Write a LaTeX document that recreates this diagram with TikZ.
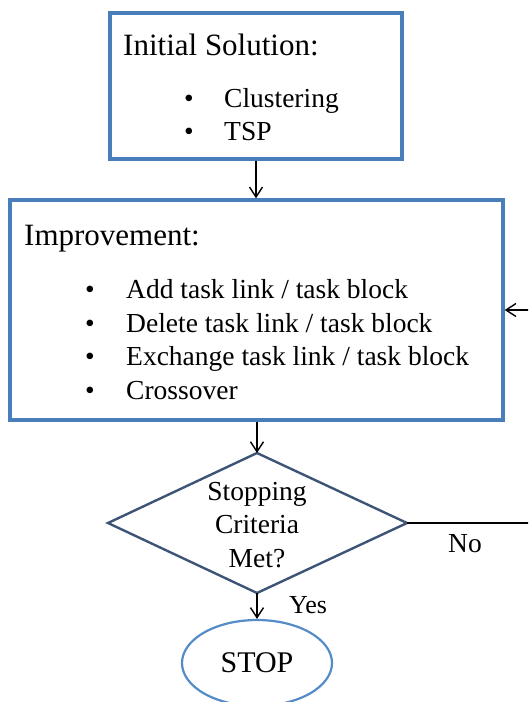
\documentclass[tikz,border=0pt]{standalone}
\usepackage{fontspec}
\setmainfont{Liberation Serif}
\usetikzlibrary{shapes.geometric,arrows.meta}
\definecolor{boxblue}{RGB}{74,126,187}
\definecolor{diablue}{RGB}{62,84,118}
\definecolor{ovalblue}{RGB}{84,140,200}
\tikzset{
  procbox/.style={draw=boxblue, line width=3.4pt, fill=white, inner sep=0pt},
  flow/.style={draw=black, line width=1.5pt, -{Straight Barb[length=10pt,width=13pt,line width=1.4pt]}},
  plain/.style={draw=black, line width=1.5pt},
  head/.style={anchor=base west, inner sep=0pt, font=\fontsize{31}{37}\selectfont},
  item/.style={anchor=base west, inner sep=0pt, font=\fontsize{27.5}{33}\selectfont},
  dot/.style={anchor=base, inner sep=0pt, font=\fontsize{27.5}{33}\selectfont},
  small/.style={anchor=base, inner sep=0pt, font=\fontsize{27.5}{33}\selectfont},
}
\begin{document}
\begin{tikzpicture}[x=1pt,y=-1pt]
\clip (0,0) rectangle (528,702);

% Initial solution box
\node[procbox, minimum width=292pt, minimum height=146pt] (init) at (256,86) {};
\node[head] (inithead) at (123,55) {Initial Solution:};
\node[dot] (ib1) at (189,107) {•};
\node[item] (it1) at (224,107) {Clustering};
\node[dot] (ib2) at (189,140) {•};
\node[item] (it2) at (224,140) {TSP};

% Improvement box
\node[procbox, minimum width=493pt, minimum height=220pt] (impr) at (256.5,310) {};
\node[head] (imphead) at (24,245) {Improvement:};
\node[dot] (mb1) at (90,298) {•};
\node[item] (mt1) at (126,298) {Add task link / task block};
\node[dot] (mb2) at (90,332) {•};
\node[item] (mt2) at (126,332) {Delete task link / task block};
\node[dot] (mb3) at (90,365) {•};
\node[item] (mt3) at (126,365) {Exchange task link / task block};
\node[dot] (mb4) at (90,399) {•};
\node[item] (mt4) at (126,399) {Crossover};

% Decision diamond
\coordinate (dT) at (257,453);
\coordinate (dR) at (407,523);
\coordinate (dB) at (257,593);
\coordinate (dL) at (108,523);
\draw[diablue, line width=2.4pt, line join=miter] (dT) -- (dR) -- (dB) -- (dL) -- cycle;
\node[small] (c1) at (257,500) {Stopping};
\node[small] (c2) at (257,533) {Criteria};
\node[small] (c3) at (257,567) {Met?};

% Stop terminal
\node[ellipse, draw=ovalblue, line width=2.2pt, minimum width=150pt, minimum height=86pt,
      font=\fontsize{30}{36}\selectfont, inner sep=0pt] (stop) at (257,663) {STOP};

% Connectors
\draw[flow] (init.south -| 256,0) -- (impr.north -| 256,0);
\draw[flow] (impr.south -| 257,0) -- (dT);
\draw[flow] (dB) -- (stop.north);
\coordinate (fbA) at (531,523);
\coordinate (fbB) at (531,310);
\draw[plain] (dR) -- (fbA) -- (fbB);
\draw[flow] (fbB) -- (impr.east);

% Branch labels
\node[item] (no) at (448,552) {No};
\node[anchor=base west, inner sep=0pt, font=\fontsize{26}{31}\selectfont] (yes) at (289,613) {Yes};
\end{tikzpicture}
\end{document}
